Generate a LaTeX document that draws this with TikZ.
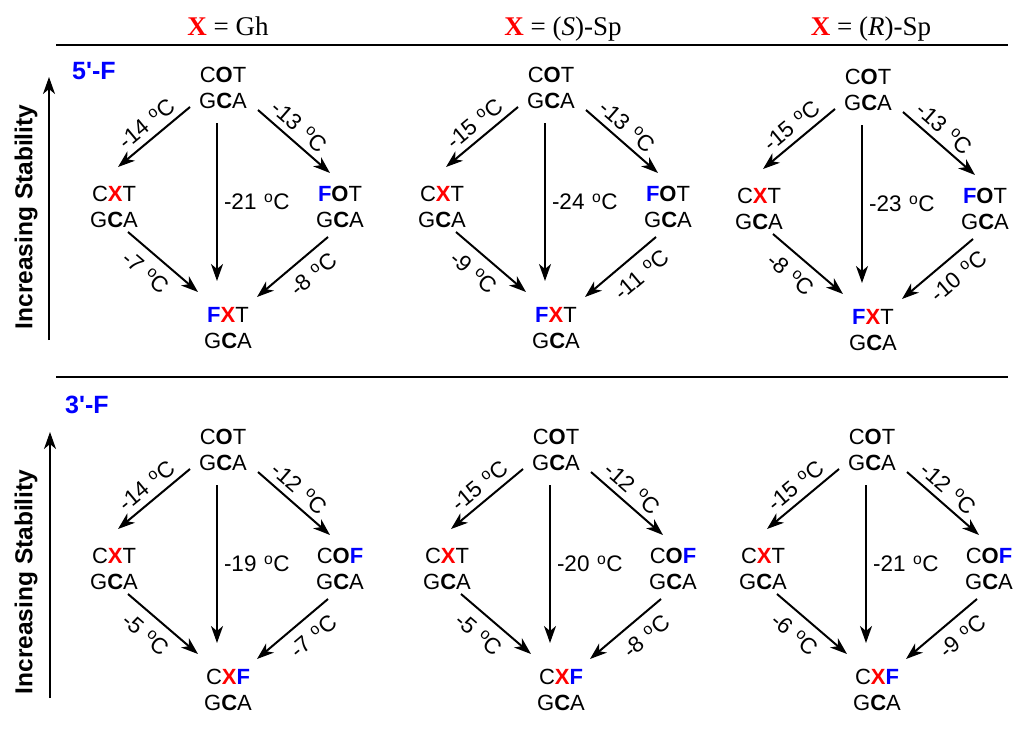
\documentclass[tikz,border=0pt]{standalone}
\usepackage{fontspec}
\setmainfont{Liberation Serif}
\newfontfamily\arial{Liberation Sans}
\usetikzlibrary{arrows.meta}
\definecolor{xred}{RGB}{255,0,0}
\definecolor{fblue}{RGB}{0,0,255}
\newcommand\Xr{\textcolor{xred}{\textbf{X}}}
\newcommand\Fb{\textcolor{fblue}{\textbf{F}}}
\newcommand\Ob{\textbf{O}}
\newcommand\Cb{\textbf{C}}
\newcommand\tmpc[1]{#1\,\,\textsuperscript{o}C}
\newcommand\tset[5]{\def\ta{#1}\def\tb{#2}\def\tc{#3}\def\td{#4}\def\te{#5}}
% #1 id, #2 V (x of vertical arrow), #3 row y offset, #4 right node top line, #5 bottom node top line
\newcommand\dgm[5]{%
  \node[nd] (#1t) at (#2+6,#3+88) {C\Ob T\\G\Cb A};
  \node[nd] (#1l) at (#2-103,#3+207) {C\Xr T\\G\Cb A};
  \node[nd] (#1r) at (#2+123,#3+207) {#4\\G\Cb A};
  \node[nd] (#1b) at (#2+11,#3+328) {#5\\G\Cb A};
  \draw[arr] ([shift={(-33,19)}]#1t.center) -- node[lab,sloped,pos=.47,above=5pt] {\tmpc{\ta}} ([shift={(4,-40)}]#1l.center);
  \draw[arr] ([shift={(35,22)}]#1t.center) -- node[lab,sloped,pos=.44,above=5pt] {\tmpc{\tb}} ([shift={(-10,-34)}]#1r.center);
  \draw[arr] ([shift={(-6,35)}]#1t.center) -- node[lab,pos=.5,right=5pt] {\tmpc{\tc}} ([shift={(-11,-47)}]#1b.center);
  \draw[arr] ([shift={(14,25)}]#1l.center) -- node[lab,sloped,pos=.43,below=9pt] {\tmpc{\td}} ([shift={(-30,-36)}]#1b.center);
  \draw[arr] ([shift={(-12,30)}]#1r.center) -- node[lab,sloped,pos=.38,below=9pt] {\tmpc{\te}} ([shift={(29,-31)}]#1b.center);
}
\begin{document}
\begin{tikzpicture}[x=1pt,y=-1pt,
  nd/.style={font=\arial\fontsize{22}{26}\selectfont, align=center, inner sep=0pt},
  lab/.style={font=\arial\fontsize{22.5}{26}\selectfont, inner sep=1pt},
  arr/.style={line width=2pt, -{Stealth[length=17pt,width=12pt,inset=5pt]}},
  rule/.style={line width=2.4pt},
  hdr/.style={font=\fontsize{27}{32}\selectfont, anchor=base, inner sep=0pt},
  grp/.style={font=\arial\bfseries\fontsize{25}{28}\selectfont, text=fblue, anchor=base west, inner sep=0pt},
  axl/.style={font=\arial\bfseries\fontsize{24.5}{28}\selectfont, rotate=90, inner sep=0pt}]
\useasboundingbox (0,0) rectangle (1015,731);
% headers
\node[hdr] (h1) at (228,35) {\Xr{} = Gh};
\node[hdr] (h2) at (563,35) {\Xr{} = (\textit{S})-Sp};
\node[hdr] (h3) at (871,35) {\Xr{} = (\textit{R})-Sp};
% rules
\coordinate (r1a) at (56,45); \coordinate (r1b) at (1008,45);
\coordinate (r2a) at (56,377); \coordinate (r2b) at (1008,377);
\draw[rule] (r1a) -- (r1b);
\draw[rule] (r2a) -- (r2b);
% group labels
\node[grp] (g5) at (72,79) {5\textquotesingle-F};
\node[grp] (g3) at (65,413) {3\textquotesingle-F};
% stability axes
\coordinate (a1s) at (49,340); \coordinate (a1e) at (49,77);
\coordinate (a2s) at (50,698); \coordinate (a2e) at (50,432);
\draw[arr] (a1s) -- (a1e);
\draw[arr] (a2s) -- (a2e);
\node[axl] (s1) at (26,217) {Increasing Stability};
\node[axl] (s2) at (26,582) {Increasing Stability};
% top row (5'-F)
\tset{-14}{-13}{-21}{-7}{-8}
\dgm{a}{217}{0}{\Fb\Ob T}{\Fb\Xr T}
\tset{-15}{-13}{-24}{-9}{-11}
\dgm{b}{545}{0}{\Fb\Ob T}{\Fb\Xr T}
\tset{-15}{-13}{-23}{-8}{-10}
\dgm{c}{862}{2}{\Fb\Ob T}{\Fb\Xr T}
% bottom row (3'-F)
\tset{-14}{-12}{-19}{-5}{-7}
\dgm{d}{217}{362}{C\Ob\Fb}{C\Xr\Fb}
\tset{-15}{-12}{-20}{-5}{-8}
\dgm{e}{550}{362}{C\Ob\Fb}{C\Xr\Fb}
\tset{-15}{-12}{-21}{-6}{-9}
\dgm{f}{866}{362}{C\Ob\Fb}{C\Xr\Fb}
\end{tikzpicture}
\end{document}
